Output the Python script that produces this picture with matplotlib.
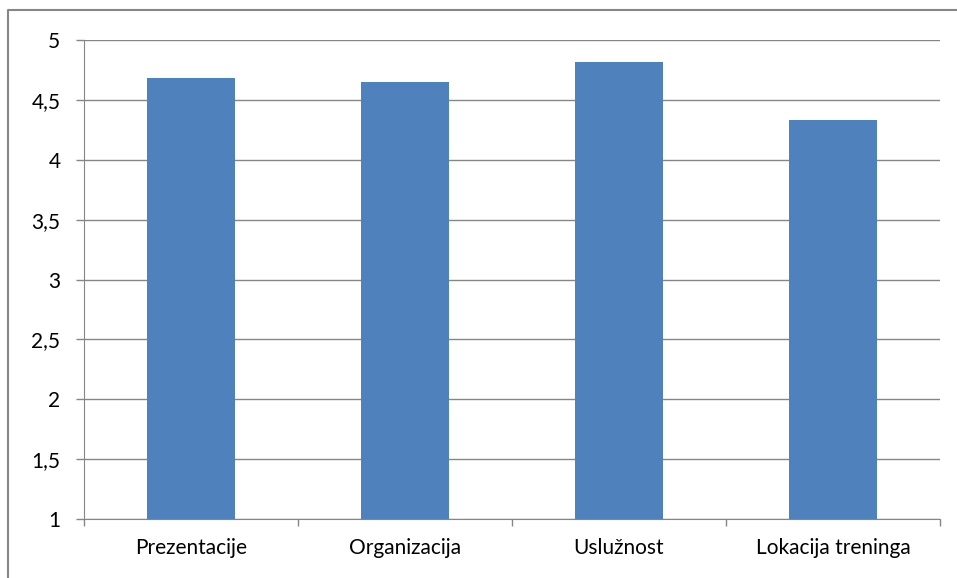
import matplotlib.pyplot as plt
import matplotlib.lines as mlines
from matplotlib.ticker import FuncFormatter, FixedLocator

# Podaci
kategorije = ["Prezentacije", "Organizacija", "Uslužnost", "Lokacija treninga"]
ocjene = [4.68, 4.65, 4.82, 4.33]

plt.rcParams['font.family'] = ['Lato', 'DejaVu Sans']

fig = plt.figure(figsize=(9.57, 5.78), dpi=100)
ax = fig.add_axes([0.0878, 0.102, 0.8944, 0.8287])

x = range(len(kategorije))
ax.bar(x, [v - 1 for v in ocjene], bottom=1, width=0.41, color="#4f81bd", zorder=3)

ax.set_xlim(-0.5, len(kategorije) - 0.5)
ax.set_ylim(1, 5)
ax.set_yticks([1 + 0.5 * i for i in range(9)])
ax.yaxis.set_major_formatter(FuncFormatter(lambda v, p: ("%g" % v).replace(".", ",")))
ax.set_xticks(list(x))
ax.set_xticklabels(kategorije, fontsize=15)
ax.xaxis.set_minor_locator(FixedLocator([i - 0.5 for i in range(len(kategorije) + 1)]))
ax.tick_params(axis='x', which='major', length=0, pad=14)
ax.tick_params(axis='x', which='minor', length=5, color="#868686", width=1)
ax.tick_params(axis='y', length=6, color="#868686", width=1, labelsize=15, pad=11)

ax.grid(axis='y', color="#868686", linewidth=1, zorder=0)
for s in ['top', 'right']:
    ax.spines[s].set_visible(False)
for s in ['left', 'bottom']:
    ax.spines[s].set_color("#868686")

# okvir oko grafikona (lijevo i gore)
W, H = 957, 578
fig.lines.append(mlines.Line2D([8 / W, 8 / W, 1.0], [0.0, 1 - 10 / H, 1 - 10 / H],
                               transform=fig.transFigure, color="#868686", linewidth=1.5))

plt.savefig("out.png", dpi=100)
